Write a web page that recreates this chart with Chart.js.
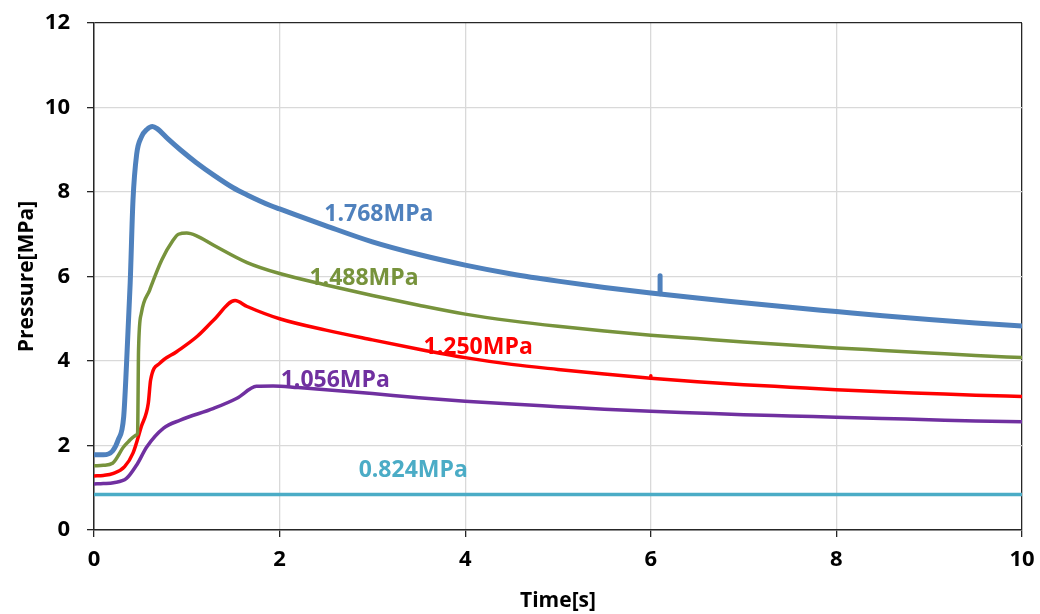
<!DOCTYPE html>
<html>
<head>
<meta charset="utf-8">
<script src="https://cdn.jsdelivr.net/npm/chart.js@4.4.1/dist/chart.umd.min.js"></script>
<style>
  body { margin: 0; background: #fff; }
  canvas { display: block; }
</style>
</head>
<body>
<canvas id="pchart" width="1040" height="614"></canvas>
<script>
// pressure traces, t in seconds, p in MPa
const blueT = [0, 0.1, 0.2, 0.26, 0.32, 0.35, 0.39, 0.42, 0.46, 0.51, 0.57, 0.63, 0.68, 0.8, 0.93, 1.1, 1.29, 1.5, 1.65, 1.9, 2.0, 2.5, 3.0, 3.5, 4.0, 4.5, 5.0, 5.5, 6.0, 6.5, 7.0, 7.5, 8.0, 8.5, 9.0, 9.5, 10];
const blueP = [1.78, 1.78, 1.87, 2.13, 2.68, 3.9, 5.85, 7.8, 8.9, 9.3, 9.48, 9.55, 9.5, 9.25, 9.0, 8.7, 8.4, 8.1, 7.93, 7.68, 7.6, 7.2, 6.82, 6.52, 6.27, 6.06, 5.89, 5.74, 5.61, 5.49, 5.38, 5.27, 5.17, 5.07, 4.98, 4.9, 4.83];
// short glitch on the blue trace near 6.1 s
const blueSpikeT = [6.1, 6.1];
const blueSpikeP = [5.59, 6.02];

const greenT = [0, 0.1, 0.2, 0.32, 0.37, 0.46, 0.47, 0.48, 0.51, 0.6, 0.73, 0.85, 0.91, 1.0, 1.1, 1.29, 1.65, 2.0, 2.5, 3.0, 3.5, 4.0, 4.5, 5.0, 5.5, 6.0, 6.5, 7.0, 7.5, 8.0, 8.5, 9.0, 9.5, 10];
const greenP = [1.52, 1.53, 1.58, 1.97, 2.09, 2.25, 2.3, 4.26, 5.13, 5.68, 6.39, 6.85, 7.0, 7.03, 6.97, 6.74, 6.33, 6.07, 5.8, 5.55, 5.32, 5.11, 4.95, 4.82, 4.71, 4.61, 4.53, 4.45, 4.38, 4.31, 4.25, 4.19, 4.13, 4.08];

const redT = [0, 0.1, 0.21, 0.33, 0.42, 0.51, 0.585, 0.61, 0.71, 0.89, 1.11, 1.29, 1.52, 1.65, 2.0, 2.5, 3.0, 3.5, 4.0, 4.5, 5.0, 5.5, 6.0, 6.5, 7.0, 7.5, 8.0, 8.5, 9.0, 9.5, 10];
const redP = [1.28, 1.29, 1.34, 1.5, 1.82, 2.45, 3.0, 3.55, 3.95, 4.22, 4.58, 4.97, 5.43, 5.29, 5.0, 4.73, 4.5, 4.28, 4.08, 3.92, 3.8, 3.69, 3.59, 3.51, 3.44, 3.38, 3.32, 3.27, 3.23, 3.19, 3.16];
const redSpikeT = [6.0, 6.0];
const redSpikeP = [3.59, 3.65];

const purpleT = [0, 0.1, 0.21, 0.35, 0.46, 0.57, 0.75, 0.93, 1.29, 1.54, 1.75, 1.93, 2.2, 2.5, 3.0, 3.5, 4.0, 4.5, 5.0, 5.5, 6.0, 6.5, 7.0, 7.5, 8.0, 8.5, 9.0, 9.5, 10];
const purpleP = [1.09, 1.1, 1.12, 1.22, 1.54, 1.97, 2.41, 2.6, 2.88, 3.12, 3.4, 3.41, 3.37, 3.32, 3.23, 3.13, 3.05, 2.98, 2.92, 2.86, 2.81, 2.77, 2.73, 2.7, 2.67, 2.64, 2.61, 2.58, 2.56];

const cyanT = [0, 2, 4, 6, 8, 10];
const cyanP = [0.84, 0.84, 0.84, 0.84, 0.84, 0.84];

const seriesNames = ['1.768MPa', '1.488MPa', '1.250MPa', '1.056MPa', '0.824MPa'];
// where each name sits, in axis units
const labelT = [3.07, 2.91, 4.14, 2.6, 3.44];
const labelP = [7.46, 5.96, 4.33, 3.53, 1.4];

const colors = ['#4F81BD', '#77933C', '#FF0000', '#7030A0', '#4BACC6'];

function pts(t, p) {
    return t.map((v, i) => ({x: v, y: p[i]}));
}

const series = [
    [blueT, blueP, 0], [greenT, greenP, 1], [redT, redP, 2], [purpleT, purpleP, 3], [cyanT, cyanP, 4],
    [blueSpikeT, blueSpikeP, 0], [redSpikeT, redSpikeP, 2]
];

const FONT = '"Open Sans", "DejaVu Sans", sans-serif';

const seriesLabels = {
    id: 'seriesLabels',
    afterDatasetsDraw(chart) {
        const ctx = chart.ctx;
        const xs = chart.scales.x, ys = chart.scales.y;
        ctx.save();
        ctx.font = 'bold 23px ' + FONT;
        ctx.textAlign = 'center';
        ctx.textBaseline = 'middle';
        seriesNames.forEach((name, i) => {
            ctx.fillStyle = colors[i];
            ctx.fillText(name, xs.getPixelForValue(labelT[i]), ys.getPixelForValue(labelP[i]));
        });
        ctx.restore();
    }
};

const frameColor = '#262626';
const gridColor = '#d9d9d9';

new Chart(document.getElementById('pchart'), {
    type: 'line',
    data: {
        datasets: series.map(s => ({
            data: pts(s[0], s[1]),
            borderColor: colors[s[2]],
            backgroundColor: colors[s[2]],
            borderWidth: s[2] === 0 ? 5 : 3.5,
            pointRadius: 0,
            cubicInterpolationMode: 'monotone',
            borderCapStyle: 'round',
            borderJoinStyle: 'round'
        }))
    },
    options: {
        responsive: false,
        animation: false,
        devicePixelRatio: 1,
        layout: {padding: {left: 0, top: 23, right: 18, bottom: 0}},
        plugins: {
            legend: {display: false},
            tooltip: {enabled: false}
        },
        scales: {
            x: {
                type: 'linear',
                min: 0, max: 10,
                afterFit(scale) {
                    scale.height = 84;
                    scale.paddingLeft = 0;
                    scale.paddingRight = 0;
                },
                ticks: {
                    stepSize: 2,
                    color: '#000',
                    padding: 10,
                    maxRotation: 0,
                    font: {family: FONT, size: 22, weight: 'bold'}
                },
                grid: {
                    color: ctx => (ctx.tick && ctx.tick.value === 10) ? frameColor : gridColor,
                    lineWidth: 1.3,
                    tickColor: frameColor,
                    tickLength: 7
                },
                border: {color: frameColor, width: 1.5},
                title: {
                    display: true,
                    text: 'Time[s]',
                    color: '#000',
                    padding: {top: 0, bottom: 0},
                    font: {family: FONT, size: 21, weight: 'bold'}
                }
            },
            y: {
                min: 0, max: 12,
                afterFit(scale) {
                    scale.width = 94;
                    scale.paddingTop = 0;
                    scale.paddingBottom = 0;
                },
                ticks: {
                    stepSize: 2,
                    color: '#000',
                    padding: 17,
                    font: {family: FONT, size: 22, weight: 'bold'}
                },
                grid: {
                    color: ctx => (ctx.tick && ctx.tick.value === 12) ? frameColor : gridColor,
                    lineWidth: 1.3,
                    tickColor: frameColor,
                    tickLength: 7
                },
                border: {color: frameColor, width: 1.5},
                title: {
                    display: true,
                    text: 'Pressure[MPa]',
                    color: '#000',
                    padding: {top: 14, bottom: 0},
                    font: {family: FONT, size: 21, weight: 'bold'}
                }
            }
        }
    },
    plugins: [seriesLabels]
});
</script>
</body>
</html>
